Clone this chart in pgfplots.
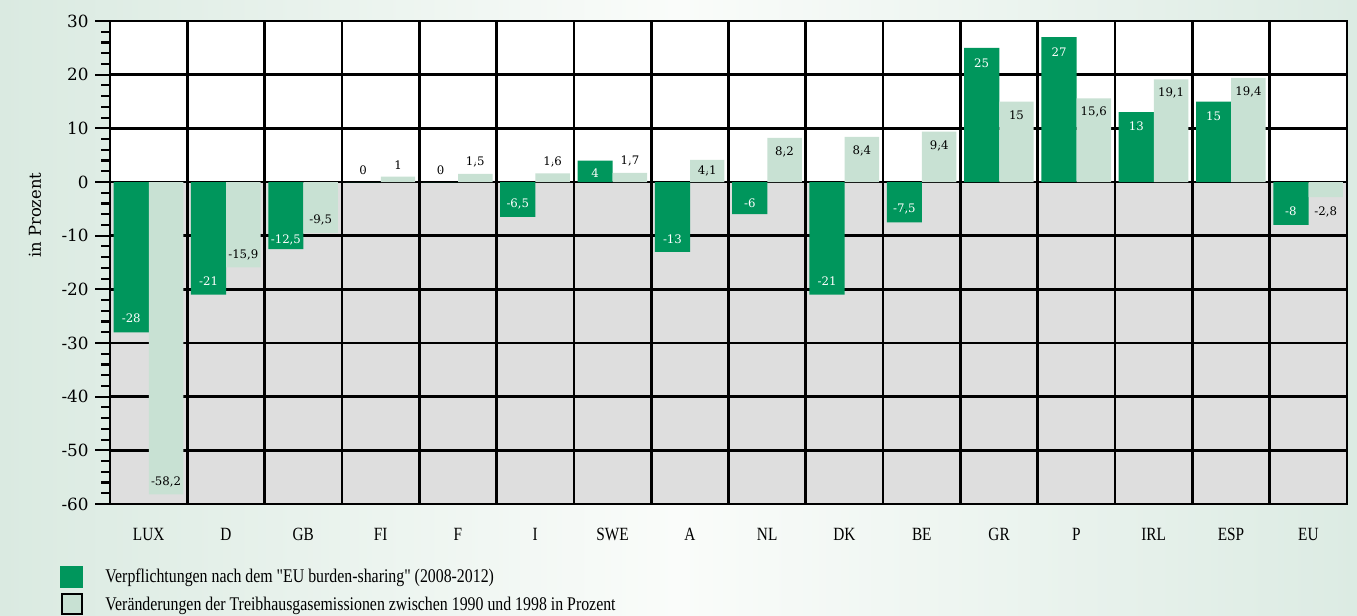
\documentclass[border=0pt]{standalone}
\usepackage{pgfplots}
\pgfplotsset{compat=1.18}
\usepackage{pgfplotstable}
\usepackage{fontspec}
\setmainfont{Liberation Serif}
\newfontfamily\dvs{DejaVu Serif}
\newfontfamily\cond[FakeStretch=0.82]{Liberation Serif}

\definecolor{barG}{RGB}{0,150,92}
\definecolor{barL}{RGB}{200,225,211}
\definecolor{graybg}{RGB}{222,222,222}
\definecolor{bgL}{RGB}{218,234,225}
\definecolor{bgM}{RGB}{250,252,250}
\definecolor{bgR}{RGB}{220,235,227}

\pgfdeclareverticalshading{splitbg}{100bp}{color(0bp)=(graybg); color(58.33bp)=(graybg); color(58.34bp)=(white); color(100bp)=(white)}

\pgfplotstableread{
x y
0 -28
1 -21
2 -12.5
3 0
4 0
5 -6.5
6 4
7 -13
8 -6
9 -21
10 -7.5
11 25
12 27
13 13
14 15
15 -8
}\greentab

% labels of the green bars (white, inside the bars)
\pgfplotstableread{
x ly lab
0 -25.4 -28
1 -18.4 -21
2 -10.8 -12,5
5 -4.1 -6,5
6 1.7 4
7 -10.6 -13
8 -3.9 -6
9 -18.4 -21
10 -5.1 -7,5
11 22.2 25
12 24.2 27
13 10.3 13
14 12.3 15
15 -5.5 -8
}\greenlab

% labels of the zero-valued green bars (black, above the axis)
\pgfplotstableread{
x ly lab
3 2.2 0
4 2.2 0
}\zerolab

\pgfplotstableread{
x y ly lab
0 -58.2 -55.8 -58,2
1 -15.9 -13.5 -15,9
2 -9.5 -7.1 -9,5
3 1 3.2 1
4 1.5 3.7 1,5
5 1.6 3.7 1,6
6 1.7 3.9 1,7
7 4.1 2.0 4,1
8 8.2 5.6 8,2
9 8.4 5.8 8,4
10 9.4 6.8 9,4
11 15 12.5 15
12 15.6 13.0 15,6
13 19.1 16.6 19,1
14 19.4 16.8 19,4
15 -2.8 -5.6 -2,8
}\lighttab

\begin{document}
\begin{tikzpicture}
\shade[left color=bgL, right color=bgR, middle color=bgM] (0pt,0pt) rectangle (1017.75pt,461.25pt);
\path[use as bounding box] (0pt,0pt) rectangle (1017.75pt,461.25pt);
\begin{axis}[
  scale only axis,
  width=927.75pt, height=362.25pt,
  at={(82.5pt,83.25pt)}, anchor=south west,
  xmin=-0.5, xmax=15.5, ymin=-60, ymax=30,
  clip=false,
  axis background/.style={shading=splitbg},
  axis line style={line width=2.2pt, black},
  xtick={0,...,15},
  xticklabels={LUX,D,GB,FI,F,I,SWE,A,NL,DK,BE,GR,P,IRL,ESP,EU},
  xtick style={draw=none},
  minor xtick={0.5,1.5,...,14.5},
  minor x tick style={draw=none},
  xminorgrids,
  minor x grid style={line width=2pt, black},
  xticklabel style={font=\cond\fontsize{14}{16}\selectfont, anchor=base, yshift=-16pt},
  ytick={-60,-50,...,30},
  yticklabels={-60,-50,-40,-30,-20,-10,0,10,20,30},
  minor y tick num=4,
  ytick pos=left,
  tick align=outside,
  major tick length=11pt,
  minor tick length=6.5pt,
  ytick style={line width=1.6pt, black},
  minor y tick style={line width=1.6pt, black},
  ymajorgrids,
  major y grid style={line width=2pt, black},
  yticklabel style={font=\dvs\fontsize{12.6}{14}\selectfont, anchor=east, xshift=-1.5pt},
  ylabel={in Prozent},
  ylabel style={font=\dvs\fontsize{12.3}{14}\selectfont, at={(axis description cs:-0.0606,0.598)}, anchor=center},
  legend style={at={(axis description cs:-0.0404,-0.128)}, anchor=north west, draw=none, fill=none, inner sep=0pt,
    font=\cond\fontsize{14.5}{17}\selectfont, row sep=4pt,
    nodes={inner xsep=0pt, inner ysep=1pt},
    /tikz/every odd column/.append style={column sep=17pt}},
  legend cell align=left,
]
\addplot[ybar, bar width=0.455, bar shift=-0.225, fill=barG, draw=none, forget plot] table[x=x, y=y] {\greentab};
\addplot[ybar, bar width=0.445, bar shift=0.225, fill=barL, draw=none, forget plot] table[x=x, y=y] {\lighttab};

\addplot[only marks, mark=*, mark size=0.01pt, mark options={draw=none, fill=none}, forget plot,
  point meta=explicit symbolic, nodes near coords,
  every node near coord/.append style={anchor=center, font=\dvs\fontsize{8.8}{10}\selectfont, text=white}]
  table[x expr=\thisrow{x}-0.225, y=ly, meta=lab] {\greenlab};
\addplot[only marks, mark=*, mark size=0.01pt, mark options={draw=none, fill=none}, forget plot,
  point meta=explicit symbolic, nodes near coords,
  every node near coord/.append style={anchor=center, font=\dvs\fontsize{8.8}{10}\selectfont, text=black}]
  table[x expr=\thisrow{x}-0.225, y=ly, meta=lab] {\zerolab};
\addplot[only marks, mark=*, mark size=0.01pt, mark options={draw=none, fill=none}, forget plot,
  point meta=explicit symbolic, nodes near coords,
  every node near coord/.append style={anchor=center, font=\dvs\fontsize{8.8}{10}\selectfont, text=black}]
  table[x expr=\thisrow{x}+0.225, y=ly, meta=lab] {\lighttab};

\addlegendimage{legend image code/.code={\fill[barG] (0pt,-7.5pt) rectangle (16.5pt,8pt);}}
\addlegendentry{Verpflichtungen nach dem "EU burden-sharing" (2008-2012)}
\addlegendimage{legend image code/.code={\draw[fill=barL, draw=black, line width=1.5pt] (0.75pt,-7pt) rectangle (15.75pt,8pt);}}
\addlegendentry{Veränderungen der Treibhausgasemissionen zwischen 1990 und 1998 in Prozent}
\end{axis}
\end{tikzpicture}
\end{document}
